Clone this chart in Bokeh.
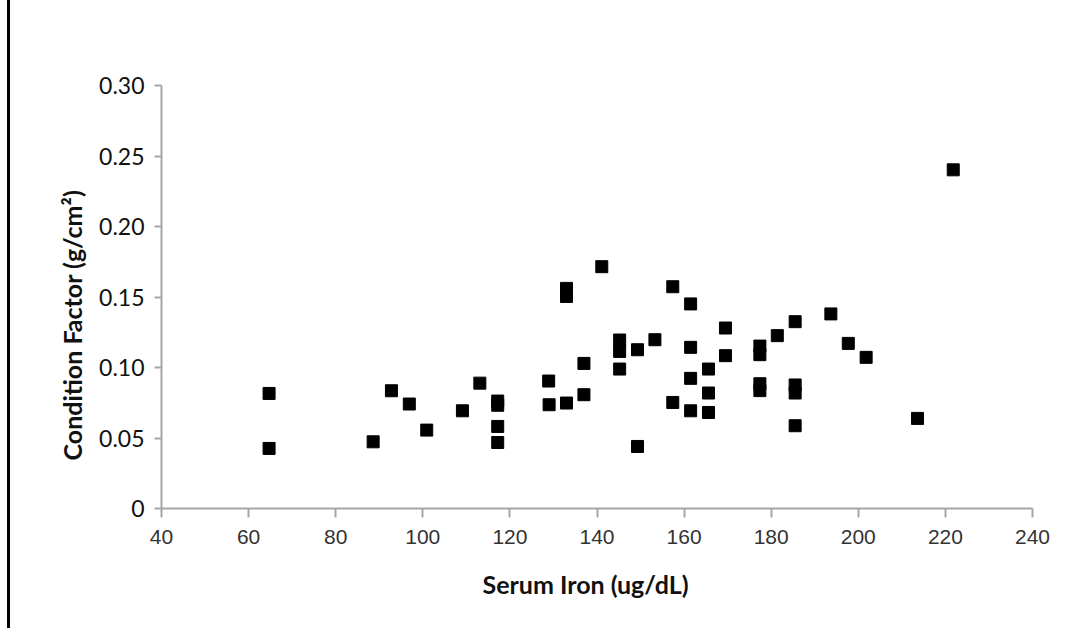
from bokeh.plotting import figure
from bokeh.models import FixedTicker, Title
from bokeh.embed import file_html
from bokeh.resources import INLINE

serum_iron = [64.7, 64.7, 88.6, 92.8, 96.9, 100.9, 109.1, 113.1,
              117.2, 117.2, 117.2, 117.2, 128.9, 129.0, 133.0, 133.0, 133.0,
              137.0, 137.0, 141.1, 145.2, 145.2, 145.2, 149.3, 149.3, 153.3,
              157.4, 157.4, 161.5, 161.5, 161.5, 161.5, 165.6, 165.6, 165.6,
              169.5, 169.5, 177.4, 177.4, 177.4, 177.4, 181.4,
              185.5, 185.5, 185.5, 185.5, 193.7, 197.7, 201.8, 213.6, 221.8]
condition_factor = [0.0816, 0.0426, 0.0473, 0.0835, 0.0741, 0.0556, 0.0693, 0.0889,
                    0.0762, 0.0732, 0.0582, 0.0468, 0.0904, 0.0736, 0.0748, 0.1561, 0.1504,
                    0.1029, 0.0807, 0.1715, 0.1195, 0.1114, 0.0989, 0.1126, 0.0440, 0.1197,
                    0.1573, 0.0752, 0.1451, 0.1143, 0.0923, 0.0693, 0.0989, 0.0819, 0.0681,
                    0.1280, 0.1084, 0.1152, 0.1091, 0.0885, 0.0836, 0.1226,
                    0.1325, 0.0876, 0.0819, 0.0587, 0.1380, 0.1171, 0.1072, 0.0639, 0.2402]

x_ticks = [40, 60, 80, 100, 120, 140, 160, 180, 200, 220, 240]
y_ticks = [0, 0.05, 0.10, 0.15, 0.20, 0.25, 0.30]
y_tick_labels = ["0", "0.05", "0.10", "0.15", "0.20", "0.25", "0.30"]
x_title = "Serum Iron (ug/dL)"
y_title = "Condition Factor (g/cm²)"

p = figure(frame_width=871, frame_height=423,
           min_border_left=161, min_border_right=56,
           min_border_top=85, min_border_bottom=120,
           x_range=(40, 240), y_range=(0, 0.30),
           output_backend="svg", toolbar_location=None,
           background_fill_color="white", border_fill_color=None)
p.styles = {"background": "linear-gradient(to right, white 0px, white 7px, black 7px, "
                          "black 10px, white 10px, white 100%)"}
p.outline_line_color = None
p.grid.visible = False

axis_gray = "#a6a6a6"
for ax in (p.xaxis[0], p.yaxis[0]):
    ax.axis_line_color = axis_gray
    ax.axis_line_width = 2
    ax.major_tick_line_color = axis_gray
    ax.major_tick_line_width = 2
    ax.major_tick_in = 0
    ax.minor_tick_line_color = None

p.xaxis.ticker = FixedTicker(ticks=x_ticks)
p.xaxis.major_tick_out = 9
p.xaxis.major_label_standoff = 12
p.xaxis.major_label_text_font = "Liberation Sans"
p.xaxis.major_label_text_font_size = "21px"
p.xaxis.major_label_text_color = "#333333"

p.yaxis.ticker = FixedTicker(ticks=y_ticks)
p.yaxis.major_label_overrides = {t: l for t, l in zip(y_ticks, y_tick_labels)}
p.yaxis.major_tick_out = 7
p.yaxis.major_label_standoff = 10
p.yaxis.major_label_text_font = "Lato"
p.yaxis.major_label_text_font_size = "23px"
p.yaxis.major_label_text_color = "#111111"

p.scatter(serum_iron, condition_factor, marker="square", size=12,
          fill_color="black", line_color="black")

p.add_layout(Title(text=x_title, text_font="Lato", text_font_style="bold",
                   text_font_size="25px", align="left", offset=321, standoff=40,
                   text_color="#111111"), "below")
p.add_layout(Title(text=y_title, text_font="Lato", text_font_style="bold",
                   text_font_size="25px", align="left", offset=48, standoff=20,
                   text_color="#111111"), "left")

open("out.html", "w").write(file_html(p, INLINE))
